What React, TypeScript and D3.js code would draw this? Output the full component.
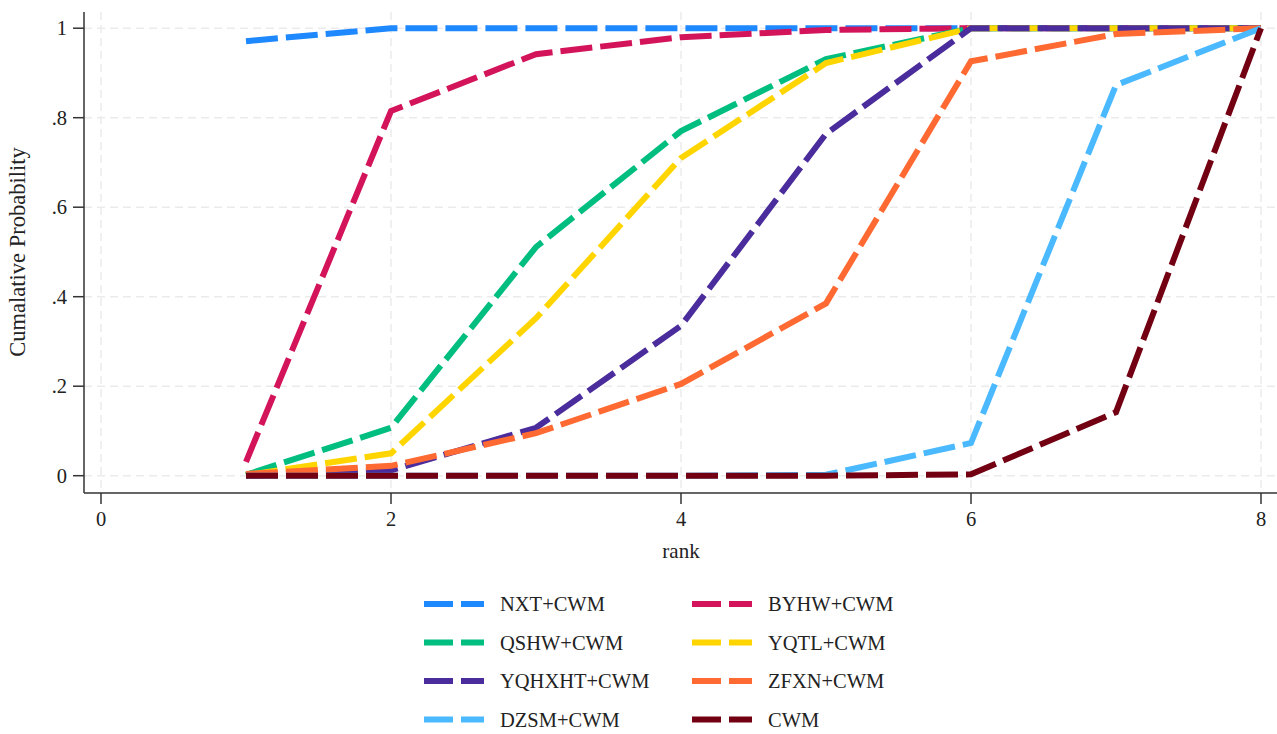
import React from "react";
import * as d3 from "d3";

const ranks = [1, 2, 3, 4, 5, 6, 7, 8];

const seriesNames = [
  "NXT+CWM",
  "BYHW+CWM",
  "QSHW+CWM",
  "YQTL+CWM",
  "YQHXHT+CWM",
  "ZFXN+CWM",
  "DZSM+CWM",
  "CWM",
];

const seriesColors = [
  "#1e88ff",
  "#d3135a",
  "#00be7f",
  "#ffd500",
  "#4b2c9c",
  "#ff6a33",
  "#4bb9ff",
  "#730012",
];

const nxt = [0.971, 1, 1, 1, 1, 1, 1, 1];
const byhw = [0.031, 0.815, 0.942, 0.98, 0.996, 1, 1, 1];
const qshw = [0.002, 0.107, 0.511, 0.77, 0.931, 1, 1, 1];
const yqtl = [0.001, 0.05, 0.352, 0.71, 0.922, 1, 1, 1];
const yqhxht = [0, 0.012, 0.107, 0.335, 0.764, 1, 1, 1];
const zfxn = [0.004, 0.022, 0.095, 0.205, 0.385, 0.926, 0.987, 1];
const dzsm = [0, 0, 0, 0, 0.002, 0.073, 0.873, 1];
const cwm = [0, 0, 0, 0, 0, 0.003, 0.142, 1];

const seriesValues = [nxt, byhw, qshw, yqtl, yqhxht, zfxn, dzsm, cwm];

const xTicks = [0, 2, 4, 6, 8];
const yTicks = [0, 0.2, 0.4, 0.6, 0.8, 1];
const yTickLabels = ["0", ".2", ".4", ".6", ".8", "1"];

const W = 1277;
const H = 734;
const font = "'Liberation Serif', 'DejaVu Serif', serif";

export default function App() {
  const x = d3.scaleLinear().domain([0, 8]).range([101, 1261]);
  const y = d3.scaleLinear().domain([0, 1]).range([475.7, 28.2]);

  const axisY = 493;
  const axisX = 84;
  const right = 1277;

  const line = d3
    .line<number>()
    .x((_, i) => x(ranks[i]))
    .y((d) => y(d));

  return (
    <div style={{ position: "absolute", left: 0, top: 0 }}>
      <svg width={W} height={H} style={{ background: "#fff", display: "block" }}>
        {/* grid */}
        {yTicks.map((t) => (
          <line
            key={"gy" + t}
            x1={axisX}
            x2={right}
            y1={y(t)}
            y2={y(t)}
            stroke="#ebebeb"
            strokeWidth={1.5}
            strokeDasharray="8 5"
          />
        ))}
        {xTicks.map((t) => (
          <line
            key={"gx" + t}
            x1={x(t)}
            x2={x(t)}
            y1={12}
            y2={axisY}
            stroke="#ebebeb"
            strokeWidth={1.5}
            strokeDasharray="8 5"
          />
        ))}

        {/* series */}
        {seriesValues.map((vals, i) => (
          <path
            key={seriesNames[i]}
            d={line(vals) || ""}
            fill="none"
            stroke={seriesColors[i]}
            strokeWidth={6}
            strokeDasharray="32 8"
            strokeLinejoin="miter"
          />
        ))}

        {/* axes */}
        <line x1={axisX} x2={axisX} y1={12} y2={axisY} stroke="#333" strokeWidth={1.5} />
        <line x1={axisX} x2={right} y1={axisY} y2={axisY} stroke="#333" strokeWidth={1.5} />
        {yTicks.map((t, i) => (
          <g key={"ty" + t}>
            <line x1={axisX - 11} x2={axisX} y1={y(t)} y2={y(t)} stroke="#333" strokeWidth={1.5} />
            <text
              x={axisX - 17}
              y={y(t)}
              textAnchor="end"
              dominantBaseline="central"
              fontFamily={font}
              fontSize={20.5}
              fill="#222"
            >
              {yTickLabels[i]}
            </text>
          </g>
        ))}
        {xTicks.map((t) => (
          <g key={"tx" + t}>
            <line x1={x(t)} x2={x(t)} y1={axisY} y2={axisY + 11} stroke="#333" strokeWidth={1.5} />
            <text
              x={x(t)}
              y={axisY + 33}
              textAnchor="middle"
              fontFamily={font}
              fontSize={20.5}
              fill="#222"
            >
              {t}
            </text>
          </g>
        ))}
        <text
          x={681}
          y={558}
          textAnchor="middle"
          fontFamily={font}
          fontSize={21}
          fill="#222"
        >
          rank
        </text>
        <text
          transform={`translate(17, 252) rotate(-90)`}
          textAnchor="middle"
          dominantBaseline="central"
          fontFamily={font}
          fontSize={22.5}
          fill="#222"
        >
          Cumalative Probability
        </text>

        {/* legend */}
        {seriesNames.map((name, i) => {
          const col = i % 2;
          const row = Math.floor(i / 2);
          const lx = col === 0 ? 424 : 692;
          const ly = 604 + row * 38.5;
          return (
            <g key={"lg" + name}>
              <line
                x1={lx}
                x2={lx + 60}
                y1={ly}
                y2={ly}
                stroke={seriesColors[i]}
                strokeWidth={6}
                strokeDasharray="29 8"
              />
              <text
                x={lx + 76}
                y={ly}
                dominantBaseline="central"
                fontFamily={font}
                fontSize={20.5}
                fill="#222"
              >
                {name}
              </text>
            </g>
          );
        })}
      </svg>
    </div>
  );
}
